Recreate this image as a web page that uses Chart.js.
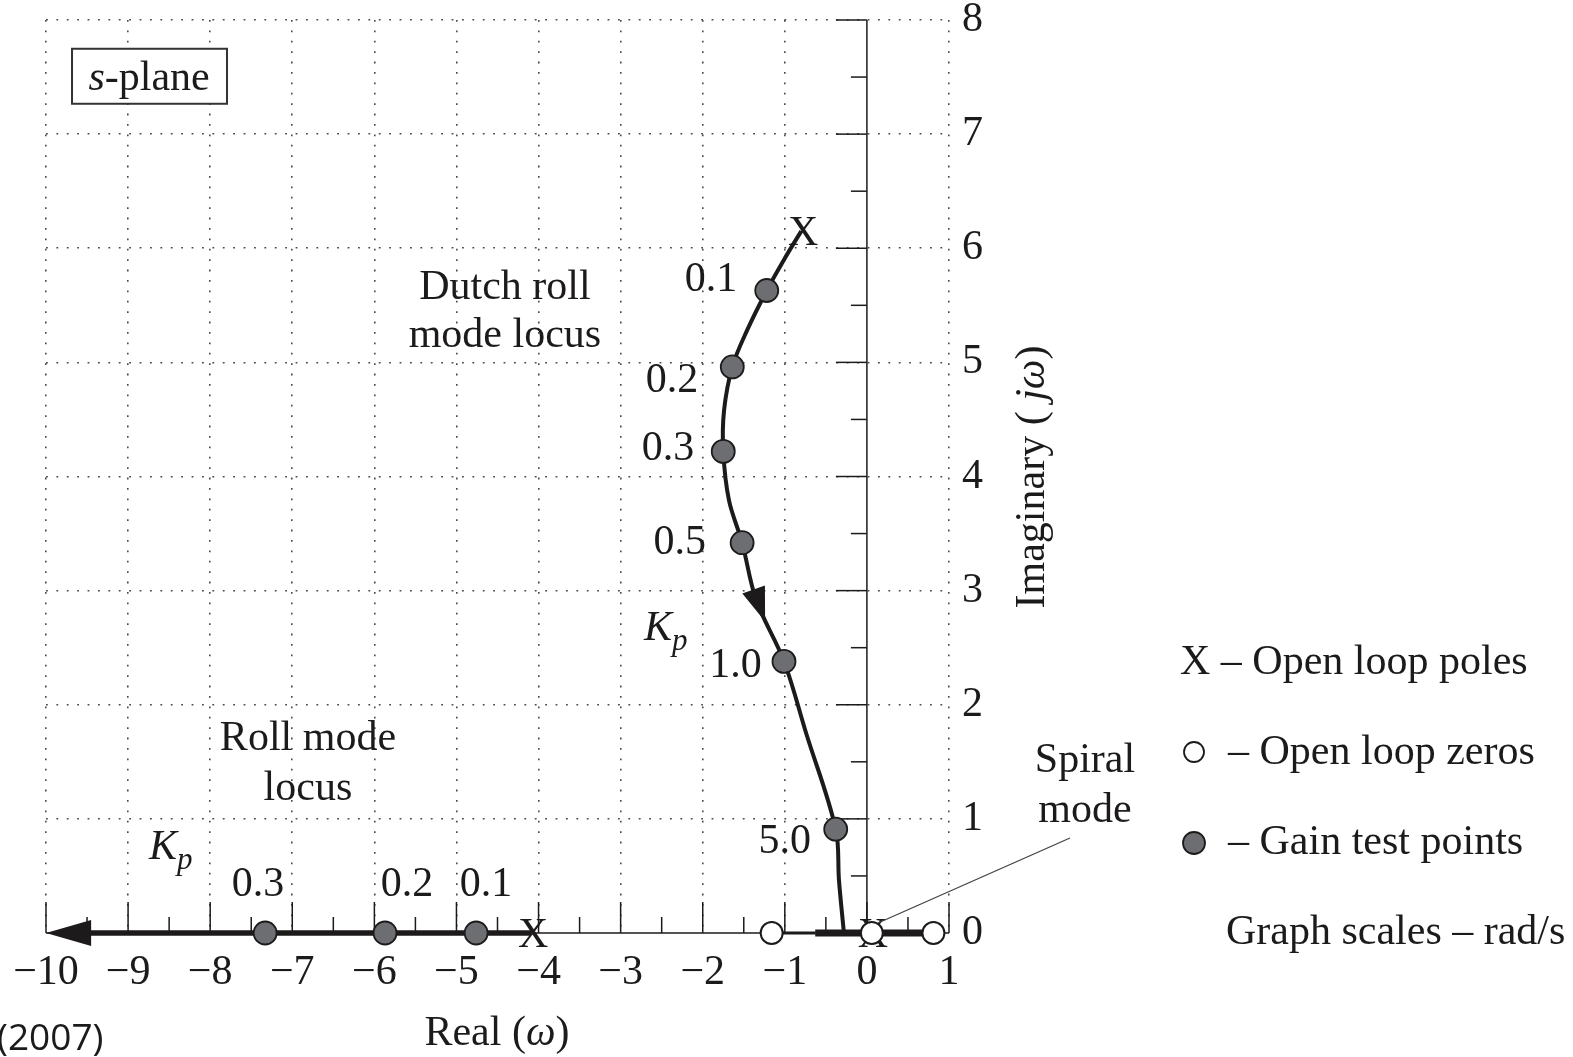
<!DOCTYPE html>
<html>
<head>
<meta charset="utf-8">
<script src="https://cdn.jsdelivr.net/npm/chart.js@4.4.1/dist/chart.umd.min.js"></script>
<style>
html,body{margin:0;padding:0;background:#fff;overflow:hidden}
#wrap{width:1573px;height:1057px;position:relative}
canvas{display:block}
</style>
</head>
<body>
<div id="wrap"><canvas id="c" width="1573" height="1057"></canvas></div>
<script>
// ---------- data ----------
const realTicks = [-10,-9,-8,-7,-6,-5,-4,-3,-2,-1,0,1];
const realTickLabels = ['\u221210','\u22129','\u22128','\u22127','\u22126','\u22125','\u22124','\u22123','\u22122','\u22121','0','1'];
const imagTicks = [0,1,2,3,4,5,6,7,8];
const imagTickLabels = ['0','1','2','3','4','5','6','7','8'];

// Dutch roll locus path
const dutchLocusRe = [-0.80,-1.01,-1.22,-1.46,-1.64,-1.74,-1.75,-1.68,-1.52,-1.35,-1.01,-0.74,-0.38,-0.34,-0.28];
const dutchLocusIm = [ 6.15, 5.90, 5.63, 5.28, 4.96, 4.58, 4.22, 3.79, 3.42, 2.92, 2.38, 1.75, 0.91, 0.46, 0.00];

// Roll mode locus on the real axis
const rollLocusRe = [-4.09, -9.6];
const rollLocusIm = [0, 0];

// Spiral / real-axis segments
const realLinkRe = [-1.16, -0.63];
const spiralSegARe = [-0.63, 0.00];
const spiralSegBRe = [0.06, 0.81];

// Gain test points
const dutchGainRe = [-1.22,-1.64,-1.75,-1.52,-1.01,-0.38];
const dutchGainIm = [ 5.63, 4.96, 4.22, 3.42, 2.38, 0.91];
const dutchGainLabels = ['0.1','0.2','0.3','0.5','1.0','5.0'];
const rollGainRe = [-7.33,-5.87,-4.76];
const rollGainIm = [0,0,0];
const rollGainLabels = ['0.3','0.2','0.1'];

// Open loop zeros and poles
const zeroRe = [-1.16, 0.06, 0.81];
const zeroIm = [0, 0, 0];
const poleRe = [-0.80, -4.09, 0.05];
const poleIm = [ 6.15, 0.00, 0.00];

// Direction arrows (tip and base centre)
const arrowTipRe = [-1.24, -10.0];
const arrowTipIm = [ 2.73, 0.0];
const arrowBaseRe = [-1.38, -9.45];
const arrowBaseIm = [ 3.01, 0.0];

// ---------- styling / layout ----------
const INK = '#1c1a1b';
const SERIF = '"Liberation Serif","Times New Roman",serif';
const FS = 42;
const fN = (s) => `${s||FS}px ${SERIF}`;
const fI = (s) => `italic ${s||FS}px ${SERIF}`;

// label anchors in data units (x centre / left, baseline)
const dutchGainLabelPos = [[-1.90,5.627],[-2.375,4.741],[-2.424,4.145],[-2.28,3.322],[-1.60,2.244],[-1.00,0.702]];
const rollGainLabelPos = [[-7.418,0.324],[-5.603,0.324],[-4.641,0.324]];

const pts = (xs, ys) => xs.map((x,i)=>({x:x, y:ys[i]}));

function drawRich(ctx, parts, x, y, align){
  let w = 0;
  parts.forEach(p=>{ctx.font=p.f; p.w=ctx.measureText(p.t).width; w+=p.w;});
  let cx = align==='center' ? x-w/2 : (align==='right' ? x-w : x);
  ctx.textAlign='left'; ctx.textBaseline='alphabetic';
  parts.forEach(p=>{ctx.font=p.f; ctx.fillText(p.t, cx, y+(p.dy||0)); cx+=p.w;});
}
function seg(ctx,x1,y1,x2,y2){ctx.beginPath();ctx.moveTo(x1,y1);ctx.lineTo(x2,y2);ctx.stroke();}

const decorPlugin = {
  id:'decor',
  beforeDatasetsDraw(chart){
    const ctx = chart.ctx, xs = chart.scales.x, ys = chart.scales.y;
    const px = v=>xs.getPixelForValue(v), py = v=>ys.getPixelForValue(v);
    ctx.save();
    ctx.strokeStyle = INK; ctx.lineWidth = 1.5; ctx.setLineDash([]);
    // axes through origin
    seg(ctx, px(realTicks[0]), py(0), px(realTicks[realTicks.length-1]), py(0));
    seg(ctx, px(0), py(imagTicks[0]), px(0), py(imagTicks[imagTicks.length-1]));
    // ticks on real axis (pointing up)
    realTicks.forEach((v,i)=>{
      seg(ctx, px(v), py(0), px(v), py(0)-31);
      if(i<realTicks.length-1){const m=(v+realTicks[i+1])/2; seg(ctx, px(m), py(0), px(m), py(0)-16);}
    });
    // ticks on imaginary axis (pointing left)
    imagTicks.forEach((v,i)=>{
      seg(ctx, px(0)-31, py(v), px(0), py(v));
      if(i<imagTicks.length-1){const m=(v+imagTicks[i+1])/2; seg(ctx, px(0)-16, py(m), px(0), py(m));}
    });
    // s-plane box
    const bx1=px(-9.683), by1=py(7.748), bx2=px(-7.795), by2=py(7.266);
    ctx.fillStyle='#fff'; ctx.fillRect(bx1,by1,bx2-bx1,by2-by1);
    ctx.strokeStyle='#333'; ctx.lineWidth=2; ctx.strokeRect(bx1,by1,bx2-bx1,by2-by1);
    ctx.fillStyle=INK;
    drawRich(ctx,[{t:'s',f:fI()},{t:'-plane',f:fN()}], px(-8.745), py(7.388), 'center');
    // open loop poles (X)
    ctx.font = fN(); ctx.textAlign='center'; ctx.textBaseline='alphabetic';
    poleRe.forEach((r,i)=>{ ctx.fillText('X', px(r)+2, py(poleIm[i])+14); });
    ctx.restore();
  },
  afterDatasetsDraw(chart){
    const ctx = chart.ctx, xs = chart.scales.x, ys = chart.scales.y;
    const px = v=>xs.getPixelForValue(v), py = v=>ys.getPixelForValue(v);
    ctx.save();
    ctx.fillStyle = INK;
    // arrows
    arrowTipRe.forEach((r,i)=>{
      const tx=px(r), ty=py(arrowTipIm[i]), bx=px(arrowBaseRe[i]), by=py(arrowBaseIm[i]);
      const dx=tx-bx, dy=ty-by, L=Math.hypot(dx,dy), nx=-dy/L, ny=dx/L, hw = i===0?12:13;
      ctx.beginPath(); ctx.moveTo(tx,ty); ctx.lineTo(bx+nx*hw,by+ny*hw); ctx.lineTo(bx-nx*hw,by-ny*hw); ctx.closePath(); ctx.fill();
    });
    // gain labels
    ctx.font=fN(); ctx.textAlign='center'; ctx.textBaseline='alphabetic';
    dutchGainLabels.forEach((t,i)=>ctx.fillText(t, px(dutchGainLabelPos[i][0]), py(dutchGainLabelPos[i][1])));
    rollGainLabels.forEach((t,i)=>ctx.fillText(t, px(rollGainLabelPos[i][0]), py(rollGainLabelPos[i][1])));
    // mode texts
    ctx.fillText('Dutch roll', px(-4.41), py(5.557));
    ctx.fillText('mode locus', px(-4.41), py(5.136));
    ctx.fillText('Roll mode', px(-6.809), py(1.604));
    ctx.fillText('locus', px(-6.809), py(1.166));
    // K_p labels
    drawRich(ctx,[{t:'K',f:fI()},{t:'p',f:fI(31),dy:10}], px(-2.716), py(2.568), 'left');
    drawRich(ctx,[{t:'K',f:fI()},{t:'p',f:fI(31),dy:10}], px(-8.745), py(0.649), 'left');
    // spiral mode annotation
    ctx.strokeStyle='#444'; ctx.lineWidth=1.3;
    seg(ctx, 1070, 838, 878, 923);
    ctx.font=fN(); ctx.textAlign='center';
    ctx.fillText('Spiral', 1085, 772);
    ctx.fillText('mode', 1085, 822);
    // key
    ctx.textAlign='left';
    ctx.fillText('X \u2013 Open loop poles', 1180, 674);
    ctx.fillText('\u2013 Open loop zeros', 1228, 764);
    ctx.fillText('\u2013 Gain test points', 1228, 854);
    ctx.fillText('Graph scales \u2013 rad/s', 1226, 944);
    ctx.lineWidth=1.8; ctx.strokeStyle=INK; ctx.fillStyle='#fff';
    ctx.beginPath(); ctx.arc(1194,752,10,0,Math.PI*2); ctx.fill(); ctx.stroke();
    ctx.fillStyle='#6d6e71';
    ctx.beginPath(); ctx.arc(1194,843,11,0,Math.PI*2); ctx.fill(); ctx.stroke();
    ctx.fillStyle=INK;
    // axis titles
    drawRich(ctx,[{t:'Real (',f:fN()},{t:'\u03c9',f:fI()},{t:')',f:fN()}], 497, 1045, 'center');
    ctx.save(); ctx.translate(1044, 477); ctx.rotate(-Math.PI/2);
    drawRich(ctx,[{t:'Imaginary ( ',f:fN()},{t:'j',f:fI()},{t:'\u03c9',f:fI()},{t:')',f:fN()}], 0, 0, 'center');
    ctx.restore();
    // source year
    ctx.font='37px "Open Sans","Liberation Sans",sans-serif'; ctx.textAlign='left';
    ctx.fillText('(2007)', -3, 1050);
    ctx.restore();
  }
};

const gridColor = (ctx) => (ctx.tick && ctx.tick.value === 0) ? 'rgba(0,0,0,0)' : '#4a4a4a';

new Chart(document.getElementById('c'), {
  type: 'scatter',
  data: {
    datasets: [
      { label:'Gain test points', data: pts(dutchGainRe, dutchGainIm).concat(pts(rollGainRe, rollGainIm)),
        pointRadius: 11.5, pointBackgroundColor:'#6d6e71', pointBorderColor: INK, pointBorderWidth: 1.8, showLine:false, order:0, clip:false },
      { label:'Open loop zeros', data: pts(zeroRe, zeroIm),
        pointRadius: 11, pointBackgroundColor:'#fff', pointBorderColor: INK, pointBorderWidth: 2, showLine:false, order:0, clip:false },
      { label:'Dutch roll locus', data: pts(dutchLocusRe, dutchLocusIm), showLine:true, tension:0.35,
        borderColor: INK, borderWidth: 4, pointRadius:0, order:1, clip:false },
      { label:'Roll locus', data: pts(rollLocusRe, rollLocusIm), showLine:true,
        borderColor: INK, borderWidth: 5.5, pointRadius:0, order:1, clip:false },
      { label:'Link', data: pts(realLinkRe, [0,0]), showLine:true,
        borderColor: INK, borderWidth: 3, pointRadius:0, order:1, clip:false },
      { label:'Spiral A', data: pts(spiralSegARe, [0,0]), showLine:true,
        borderColor: INK, borderWidth: 7, pointRadius:0, order:1, clip:false },
      { label:'Spiral B', data: pts(spiralSegBRe, [0,0]), showLine:true,
        borderColor: INK, borderWidth: 7, pointRadius:0, order:1, clip:false }
    ]
  },
  options: {
    responsive:false, animation:false, devicePixelRatio:1, events:[],
    layout:{ padding:{ left:46, top:20, right:0, bottom:0 } },
    plugins:{ legend:{display:false}, tooltip:{enabled:false} },
    scales:{
      x:{ type:'linear', position:'bottom', min:-10, max:1,
        afterBuildTicks:(s)=>{ s.ticks = realTicks.map(v=>({value:v})); },
        afterFit:(s)=>{ s.height = 124; s.paddingLeft=0; s.paddingRight=0; },
        ticks:{ autoSkip:false, maxRotation:0, minRotation:0, padding:15, color:INK,
          font:{family:SERIF, size:FS},
          callback:(v)=>{ const i = realTicks.indexOf(v); return i>=0 ? realTickLabels[i] : ''; } },
        grid:{ color:gridColor, lineWidth:1.6, drawTicks:false },
        border:{ display:false, dash:[1.8,8.6] }
      },
      y:{ type:'linear', position:'right', min:0, max:8,
        afterBuildTicks:(s)=>{ s.ticks = imagTicks.map(v=>({value:v})); },
        afterFit:(s)=>{ s.width = 624; s.paddingTop=0; s.paddingBottom=0; },
        ticks:{ autoSkip:false, padding:13, color:INK, font:{family:SERIF, size:FS},
          callback:(v)=>{ const i = imagTicks.indexOf(v); return i>=0 ? imagTickLabels[i] : ''; } },
        grid:{ color:gridColor, lineWidth:1.6, drawTicks:false },
        border:{ display:false, dash:[1.8,8.6] }
      }
    }
  },
  plugins:[decorPlugin]
});
</script>
</body>
</html>
